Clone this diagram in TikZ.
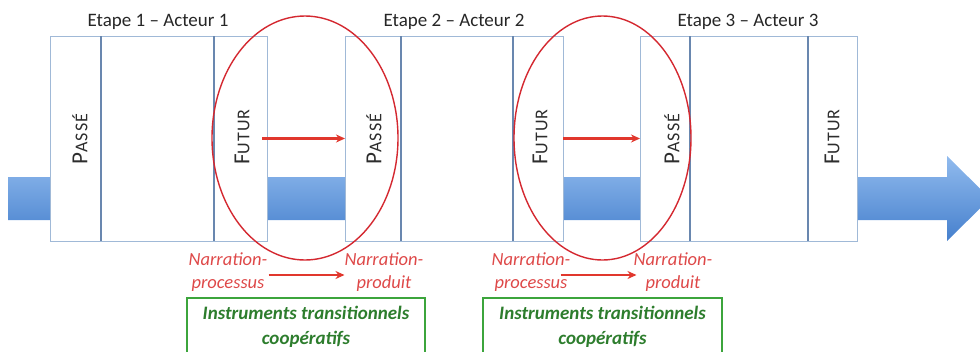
\documentclass[tikz,border=0pt]{standalone}
\usepackage{fontspec}
\setmainfont{Carlito}
\newfontfamily\vfont[LetterSpace=6]{Carlito}
\usetikzlibrary{shapes.geometric,arrows.meta}
\definecolor{edgeblue}{RGB}{160,185,215}
\definecolor{sepblue}{RGB}{105,135,175}
\definecolor{bandtop}{RGB}{145,187,238}
\definecolor{bandbot}{RGB}{70,128,205}
\definecolor{ellred}{RGB}{212,40,48}
\definecolor{arrred}{RGB}{225,55,45}
\definecolor{txtred}{RGB}{222,72,72}
\definecolor{boxgreen}{RGB}{60,165,60}
\definecolor{txtgreen}{RGB}{45,125,45}
\definecolor{txtgray}{RGB}{45,45,45}
\tikzset{
  panel/.style={draw=edgeblue, line width=1pt, fill=white, minimum height=205, inner sep=0pt, outer sep=0pt},
  sep/.style={draw=sepblue, line width=2.6pt},
  vlabel/.style={rotate=90, text=txtgray, inner sep=0pt, font=\vfont},
  etape/.style={font=\fontsize{19}{22}\selectfont, text=black!85, inner sep=0pt},
  ring/.style={ellipse, draw=ellred, line width=1.4pt, inner sep=0pt},
  redarrow/.style={draw=arrred, line width=2.2pt, -{Stealth[length=9pt,width=8pt]}},
  narr/.style={font=\fontsize{18.5}{23}\selectfont\itshape, text=txtred, align=center, inner sep=0pt},
  instr/.style={draw=boxgreen, line width=1.8pt, font=\fontsize{19}{25}\selectfont\bfseries\itshape, text=txtgreen, align=center, inner sep=0pt, minimum height=58},
}
\newcommand{\passe}{{\fontsize{23}{22}\selectfont P}{\fontsize{18}{22}\selectfont ASSÉ}}
\newcommand{\futur}{{\fontsize{23}{22}\selectfont F}{\fontsize{18}{22}\selectfont UTUR}}
\begin{document}
\begin{tikzpicture}[x=1pt,y=-1pt]
\useasboundingbox (0,0) rectangle (980,351);
% band arrow
\shade[top color=bandtop, bottom color=bandbot]
  (8,177) -- (947,177) -- (947,156) -- (990,198.5) -- (947,241) -- (947,220) -- (8,220) -- cycle;
% block 1
\node[panel, minimum width=51] (p1) at (75.5,138.5) {};
\node[panel, minimum width=113] (m1) at (157.5,138.5) {};
\node[panel, minimum width=53] (f1) at (240.5,138.5) {};
% block 2
\node[panel, minimum width=56] (p2) at (373,138.5) {};
\node[panel, minimum width=112] (m2) at (457,138.5) {};
\node[panel, minimum width=50] (f2) at (538,138.5) {};
% block 3
\node[panel, minimum width=50] (p3) at (665,138.5) {};
\node[panel, minimum width=118] (m3) at (749,138.5) {};
\node[panel, minimum width=49] (f3) at (832.5,138.5) {};
% separators
\foreach \a/\b in {p1/m1,m1/f1,p2/m2,m2/f2,p3/m3,m3/f3}
  \draw[sep] (\a.north east) -- (\a.south east);
% vertical labels
\node[vlabel] (tp1) at (80,139) {\passe};
\node[vlabel] (tf1) at (242,137) {\futur};
\node[vlabel] (tp2) at (374,139) {\passe};
\node[vlabel] (tf2) at (540,137) {\futur};
\node[vlabel] (tp3) at (672,139) {\passe};
\node[vlabel] (tf3) at (832,137) {\futur};
% etape labels
\node[etape] (e1) at (158,22) {Etape 1 – Acteur 1};
\node[etape] (e2) at (454,22) {Etape 2 – Acteur 2};
\node[etape] (e3) at (748,22) {Etape 3 – Acteur 3};
% ellipses
\node[ring, minimum width=186, minimum height=244] (r1) at (305,138) {};
\node[ring, minimum width=177, minimum height=244] (r2) at (602.5,138) {};
% arrows inside
\draw[redarrow] ([xshift=-5]f1.east) -- (p2.west);
\draw[redarrow] (f2.east) -- (p3.west);
% narration labels
\node[narr] (np1) at (228,272) {Narration-\\processus};
\node[narr] (nd1) at (384,272) {Narration-\\produit};
\node[narr] (np2) at (531,272) {Narration-\\processus};
\node[narr] (nd2) at (673,272) {Narration-\\produit};
\draw[redarrow] ([shift={(1,3)}]np1.east) -- ([shift={(0,3)}]nd1.west);
\draw[redarrow] ([shift={(-10,3)}]np2.east) -- ([shift={(3,3)}]nd2.west);
% green boxes
\node[instr, minimum width=238] (g1) at (306,327) {Instruments transitionnels\\coopératifs};
\node[instr, minimum width=239] (g2) at (602.5,327) {Instruments transitionnels\\coopératifs};
\end{tikzpicture}
\end{document}
